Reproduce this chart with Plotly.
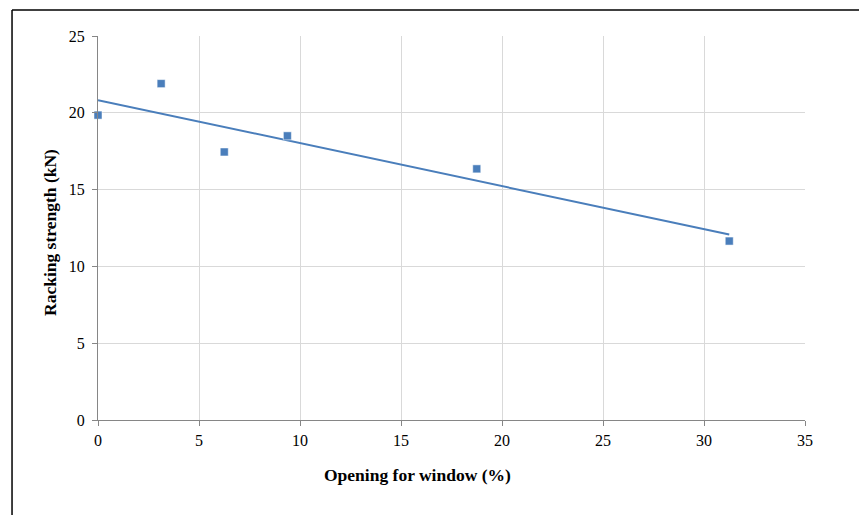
import numpy as np
import plotly.graph_objects as go

# Racking strength vs. window opening ratio
opening_pct = [0, 3.125, 6.25, 9.375, 18.75, 31.25]
racking_kn = [19.85, 21.9, 17.45, 18.5, 16.35, 11.65]

x_ticks = [0, 5, 10, 15, 20, 25, 30, 35]
y_ticks = [0, 5, 10, 15, 20, 25]

# Linear trendline fitted to the measurements
slope, intercept = np.polyfit(opening_pct, racking_kn, 1)
fit_x = [min(opening_pct), max(opening_pct)]
fit_y = [slope * v + intercept for v in fit_x]

blue = "#4A7EBB"
serif = "Liberation Serif, Times New Roman, serif"

fig = go.Figure()
fig.add_trace(go.Scatter(
    x=fit_x, y=fit_y, mode="lines",
    line=dict(color=blue, width=2), hoverinfo="skip", showlegend=False,
))
fig.add_trace(go.Scatter(
    x=opening_pct, y=racking_kn, mode="markers",
    marker=dict(symbol="square", size=8, color=blue,
                line=dict(color="#ffffff", width=0.5)),
    showlegend=False, cliponaxis=False,
))

axis_common = dict(
    showgrid=True, gridcolor="#d9d9d9", gridwidth=1,
    showline=True, linecolor="#868686", linewidth=1,
    ticks="outside", ticklen=5, tickcolor="#868686",
    tickfont=dict(family=serif, size=16, color="#000000"),
    zeroline=False,
)

fig.update_xaxes(range=[0, 35], tickvals=x_ticks, ticklabelstandoff=1,
                 **axis_common)
fig.update_yaxes(range=[0, 25], tickvals=y_ticks, ticklabelstandoff=4,
                 **axis_common)

# Outer chart frame (top and left edges)
frame = dict(type="line", xref="paper", yref="paper",
             line=dict(color="#000000", width=1.5))
fig.add_shape(x0=-0.1216, x1=1.08, y0=1.0677, y1=1.0677, **frame)
fig.add_shape(x0=-0.1216, x1=-0.1216, y0=1.0677, y1=-0.25, **frame)

# Axis titles
fig.add_annotation(
    text="<b>Opening for window (%)</b>", xref="paper", yref="paper",
    x=(417 - 98) / 707, y=(420 - 475) / 384, showarrow=False,
    font=dict(family=serif, size=17.5, color="#000000"),
    xanchor="center", yanchor="middle",
)
fig.add_annotation(
    text="<b>Racking strength (kN)</b>", xref="paper", yref="paper",
    x=(50 - 98) / 707, y=(420 - 233) / 384, showarrow=False, textangle=-90,
    font=dict(family=serif, size=17.5, color="#000000"),
    xanchor="center", yanchor="middle",
)

fig.update_layout(
    width=859, height=515,
    margin=dict(l=98, r=54, t=36, b=95),
    paper_bgcolor="#ffffff", plot_bgcolor="#ffffff",
    showlegend=False,
)

fig.write_html("out.html")
